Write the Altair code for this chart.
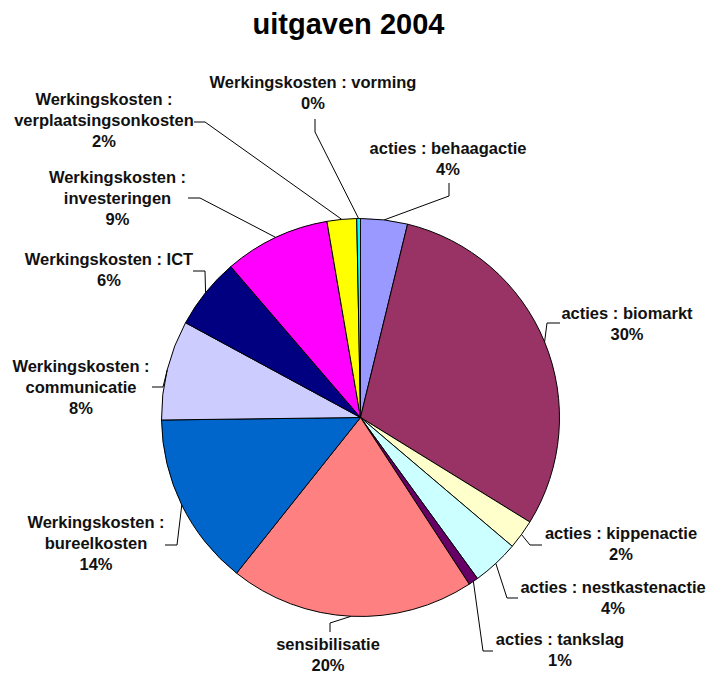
import altair as alt
import pandas as pd
import numpy as np

# ---- data ----
categories = [
    "acties : behaagactie", "acties : biomarkt", "acties : kippenactie",
    "acties : nestkastenactie", "acties : tankslag", "sensibilisatie",
    "Werkingskosten : bureelkosten", "Werkingskosten : communicatie",
    "Werkingskosten : ICT", "Werkingskosten : investeringen",
    "Werkingskosten : verplaatsingsonkosten", "Werkingskosten : vorming",
]
label_names = [
    "acties : behaagactie", "acties : biomarkt", "acties : kippenactie",
    "acties : nestkastenactie", "acties : tankslag", "sensibilisatie",
    "Werkingskosten :\nbureelkosten", "Werkingskosten :\ncommunicatie",
    "Werkingskosten : ICT", "Werkingskosten :\ninvesteringen",
    "Werkingskosten :\nverplaatsingsonkosten", "Werkingskosten : vorming",
]
values = [3.8, 30.0, 2.4, 3.8, 0.8, 19.9, 14.1, 8.1, 5.8, 8.6, 2.4, 0.3]
colors = ["#9999FF", "#993366", "#FFFFCC", "#CCFFFF", "#660066", "#FF8080",
          "#0066CC", "#CCCCFF", "#000080", "#FF00FF", "#FFFF00", "#00FFFF"]
title_text = "uitgaven 2004"

# ---- layout (chart pixel space; page coords minus 8px margin) ----
OFF = 8
W, H = 704, 665
CX, CY, R = 360.5 - OFF, 417.5 - OFF, 199
# label anchors: centre x, first-line centre y (page coords)
label_pos = [(448, 149), (627, 314), (621, 534), (613, 587.5), (560, 640), (328, 645),
             (96, 523), (81, 367), (109, 259.5), (117.5, 178), (104, 100), (313, 83)]
# leader start + elbow (page coords); the end is on the slice's arc
leader_pts = [((449, 183), (449, 196)), ((560, 323), (547, 323)), ((542, 545), (530, 545)),
              ((518, 598), (507, 598)), ((493, 651), (483, 651)), ((330, 632), (330, 623)),
              ((165, 545), (177, 545)), ((152, 387), (163, 387)), ((193, 271), (205, 271)),
              ((188, 198), (200, 198)), ((194, 122), (205, 122)), ((315, 119), (315, 132))]

total = sum(values)
vals = np.array(values, dtype=float)
cum = np.cumsum(vals)
mid = (cum - vals / 2) / total * 2 * np.pi

pie_df = pd.DataFrame({"category": categories, "value": values, "idx": range(len(values))})

lab_df = pd.DataFrame({
    "category": categories,
    "text": [f"{n}\n{round(v / total * 100)}%" for n, v in zip(label_names, values)],
    "x": [p[0] - OFF for p in label_pos],
    "y": [p[1] - OFF for p in label_pos],
})

rows = []
for c, (a, b), th in zip(categories, leader_pts, mid):
    rows.append({"category": c, "k": 0, "x": a[0] - OFF, "y": a[1] - OFF})
    rows.append({"category": c, "k": 1, "x": b[0] - OFF, "y": b[1] - OFF})
    rows.append({"category": c, "k": 2, "x": CX + R * np.sin(th), "y": CY - R * np.cos(th)})
lead_df = pd.DataFrame(rows)

xs = alt.Scale(domain=[0, W], nice=False, zero=False)
ys = alt.Scale(domain=[0, H], nice=False, zero=False, reverse=True)

pie = alt.Chart(pie_df).mark_arc(radius=R, stroke="black", strokeWidth=1).encode(
    theta=alt.Theta("value:Q", stack=True),
    order=alt.Order("idx:Q"),
    color=alt.Color("category:N", scale=alt.Scale(domain=categories, range=colors), legend=None),
    x=alt.value(CX),
    y=alt.value(CY),
)

leaders = alt.Chart(lead_df).mark_line(color="black", strokeWidth=1).encode(
    x=alt.X("x:Q", scale=xs, axis=None),
    y=alt.Y("y:Q", scale=ys, axis=None),
    detail="category:N",
    order="k:Q",
)

labels = alt.Chart(lab_df).mark_text(
    font="Liberation Sans", fontWeight="bold", fontSize=16.5, lineBreak="\n",
    lineHeight=21, align="center", baseline="middle", color="#111111",
).encode(
    x=alt.X("x:Q", scale=xs, axis=None),
    y=alt.Y("y:Q", scale=ys, axis=None),
    text="text:N",
)

title = alt.Chart(pd.DataFrame({"t": [title_text]})).mark_text(
    font="Liberation Sans", fontWeight="bold", fontSize=29, align="center",
    baseline="alphabetic", color="#000000",
).encode(x=alt.value(348.5 - OFF), y=alt.value(34 - OFF), text="t:N")

chart = alt.layer(pie, leaders, labels, title).properties(
    width=W, height=H, padding=0, autosize=alt.AutoSizeParams(type="none"),
    background="white",
).configure_view(strokeWidth=0)

chart.save("out.html", embed_options={"renderer": "svg", "actions": False})
